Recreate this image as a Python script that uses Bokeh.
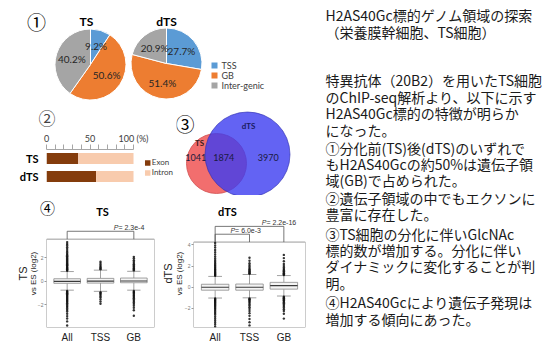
import numpy as np
from bokeh.plotting import figure
from bokeh.layouts import row, column
from bokeh.models import Range1d, FactorRange, FixedTicker, LinearAxis, Legend, LegendItem
from bokeh.core.properties import value
from bokeh.embed import file_html
from bokeh.resources import INLINE

# ---------------- data ----------------
pie_groups = ["TS", "dTS"]
pie_categories = ["TSS", "GB", "Inter-genic"]
pie_ts_pct = [9.2, 50.6, 40.2]
pie_dts_pct = [27.7, 51.4, 20.9]

bar_groups = ["TS", "dTS"]
bar_categories = ["Exon", "Intron"]
bar_exon_pct = [36.5, 57.0]
bar_intron_pct = [63.5, 43.0]
bar_tick_values = [0, 50, 100]
bar_minor_ticks = [10, 20, 30, 40, 60, 70, 80, 90]

venn_labels = ["TS", "dTS"]
venn_ts_only = 1041
venn_shared = 1874
venn_dts_only = 3970

box_categories = ["All", "TSS", "GB"]
# TS vs ES (log2)
ts_q1 = [-0.17, -0.15, -0.12]
ts_median = [0.0, 0.02, 0.03]
ts_q3 = [0.22, 0.25, 0.28]
ts_whisker_lo = [-0.75, -0.85, -0.75]
ts_whisker_hi = [0.83, 0.95, 0.85]
ts_out_all = [0.9, 0.96, 1.02, 1.09, 1.15, 1.22, 1.3, 1.37, 1.45, 1.52, 1.6, 1.68, 1.77,
              1.85, 1.94, 2.03, 2.12, 2.22, 2.33, 2.45, 2.58, 2.74, 2.9, 3.05, 3.18, 3.33,
              -0.82, -0.88, -0.95, -1.02, -1.1, -1.17, -1.25, -1.33, -1.41, -1.5, -1.58,
              -1.67, -1.76, -1.86, -1.96, -2.07, -2.18, -2.3, -2.43, -2.57, -2.75, -2.95,
              -3.15, -3.4, -3.75]
ts_out_tss = [1.02, 1.1, 1.2, 1.3, 1.42, 1.55, 1.67,
              -0.92, -1.0, -1.08, -1.17, -1.28, -1.4, -1.55, -1.72, -1.9]
ts_out_gb = [0.93, 1.0, 1.08, 1.16, 1.25, 1.34, 1.44, 1.55, 1.67, 1.8, 1.95, 2.08,
             -0.82, -0.9, -0.98, -1.06, -1.15, -1.24, -1.34, -1.44, -1.55, -1.67, -1.8,
             -1.93, -2.08, -2.25, -2.45, -2.92]
ts_pvalues = ["2.3e-4"]
# dTS vs ES (log2)
dts_q1 = [-0.28, -0.28, -0.18]
dts_median = [0.0, 0.0, 0.15]
dts_q3 = [0.28, 0.3, 0.46]
dts_whisker_lo = [-1.02, -1.0, -0.83]
dts_whisker_hi = [1.02, 1.2, 1.1]
dts_out_all = [1.08, 1.15, 1.22, 1.3, 1.38, 1.46, 1.55, 1.64, 1.73, 1.83, 1.93, 2.04, 2.15,
               2.27, 2.4, 2.55, 2.72, 2.9, 3.1, 3.3, 3.52, 3.75, 3.95, 4.17,
               -1.06, -1.13, -1.2, -1.28, -1.36, -1.44, -1.53, -1.62, -1.72, -1.82, -1.93,
               -2.04, -2.16, -2.29, -2.43, -2.58, -2.75, -2.93, -3.12, -3.3, -3.5, -3.7]
dts_out_tss = [1.26, 1.33, 1.41, 1.5, 1.6, 1.7, 1.82, 1.95, 2.1, 2.27, 2.5, 2.78,
               -1.06, -1.13, -1.21, -1.3, -1.4, -1.5, -1.62, -1.75, -1.9, -2.06, -2.25,
               -2.45, -2.7, -3.0, -3.3, -3.6]
dts_out_gb = [1.16, 1.23, 1.31, 1.4, 1.5, 1.6, 1.72, 1.85, 2.0, 2.2, 2.45, 2.75, 3.05,
              -0.9, -0.97, -1.05, -1.13, -1.22, -1.31, -1.41, -1.52, -1.64, -1.77, -1.91,
              -2.07, -2.25, -2.5, -2.96]
dts_pvalues = ["6.0e-3", "2.2e-16"]

text_lines = [
    "H2AS40Gc標的ゲノム領域の探索",
    "（栄養膜幹細胞、TS細胞）",
    "特異抗体（20B2）を用いたTS細胞",
    "のChIP-seq解析より、以下に示す",
    "H2AS40Gc標的の特徴が明らか",
    "になった。",
    "①分化前(TS)後(dTS)のいずれで",
    "もH2AS40Gcの約50%は遺伝子領",
    "域(GB)で占められた。",
    "②遺伝子領域の中でもエクソンに",
    "豊富に存在した。",
    "③TS細胞の分化に伴いGlcNAc",
    "標的数が増加する。分化に伴い",
    "ダイナミックに変化することが判",
    "明。",
    "④H2AS40Gcにより遺伝子発現は",
    "増加する傾向にあった。",
]

# ---------------- style ----------------
CJK = "Noto Sans CJK JP"
OFF = "Lato"
ARIAL = "Liberation Sans"
pie_colors = ["#5B9BD5", "#ED7D31", "#A5A5A5"]
bar_colors = ["#843C0C", "#F8CBAD"]
TOOLS = dict(output_backend="svg", toolbar_location=None)


def blank(width, height, x0, x1, y0, y1):
    p = figure(width=width, height=height, x_range=Range1d(x0, x1), y_range=Range1d(y0, y1),
               x_axis_type=None, y_axis_type=None, min_border=0, **TOOLS)
    p.outline_line_color = None
    p.grid.visible = False
    p.background_fill_color = "white"
    p.border_fill_color = "white"
    return p


# ---------------- (1) pies ----------------
H1 = 102
pie = blank(312, H1, 0, 312, 0, H1)
pie_cx = [90, 166]
pie_cy = [H1 - 64, H1 - 63]
pie_r = 35.5
pie_sets = [pie_ts_pct, pie_dts_pct]
lab_x, lab_y, lab_t = [], [], []
for k, cat in enumerate(pie_categories):
    starts, ends = [], []
    for g, vals in enumerate(pie_sets):
        before = sum(vals[:k]) / 100.0
        after = before + vals[k] / 100.0
        a0 = np.pi / 2 - before * 2 * np.pi
        a1 = np.pi / 2 - after * 2 * np.pi
        starts.append(a0)
        ends.append(a1)
        mid = (a0 + a1) / 2
        lab_x.append(pie_cx[g] + 0.55 * pie_r * np.cos(mid))
        lab_y.append(pie_cy[g] + 0.55 * pie_r * np.sin(mid))
        lab_t.append(f"{vals[k]:.1f}%")
    pie.wedge(x=pie_cx, y=pie_cy, radius=pie_r, start_angle=starts, end_angle=ends,
              direction="clock", fill_color=pie_colors[k], line_color="white", line_width=1)
pie.text(x=lab_x, y=lab_y, text=lab_t, text_font=value(OFF), text_font_size="10px",
         text_align="center", text_baseline="middle", text_color="#262626")
pie.text(x=[pie_cx[0] - 4, pie_cx[1]], y=[H1 - 21, H1 - 21], text=pie_groups,
         text_font=value(OFF), text_font_size="12px", text_font_style="bold",
         text_align="center", text_baseline="middle", text_color="#000000")
pie.text(x=[36], y=[H1 - 21], text=["①"], text_font=value(CJK), text_font_size="19px",
         text_align="center", text_baseline="middle", text_color="#000000")
leg_y = [H1 - 65, H1 - 75, H1 - 85]
pie.rect(x=[214] * 3, y=leg_y, width=6, height=6, fill_color=pie_colors, line_color=None)
pie.text(x=[221] * 3, y=leg_y, text=pie_categories, text_font=value(OFF), text_font_size="9px",
         text_align="left", text_baseline="middle", text_color="#404040")

# ---------------- (2) bars ----------------
bar = figure(width=176, height=93, x_range=Range1d(0, 149.4),
             y_range=FactorRange(*reversed(bar_groups)), x_axis_location="above",
             min_border_left=46, min_border_right=0, min_border_top=46, min_border_bottom=10,
             title="②", **TOOLS)
bar.outline_line_color = None
bar.grid.visible = False
bar_total = [e + i for e, i in zip(bar_exon_pct, bar_intron_pct)]
r_ex = bar.hbar(y=bar_groups, left=0, right=bar_exon_pct, height=0.6, fill_color=bar_colors[0], line_color=None)
r_in = bar.hbar(y=bar_groups, left=bar_exon_pct, right=bar_total, height=0.6, fill_color=bar_colors[1], line_color=None)
xa = bar.xaxis[0]
xa.ticker = FixedTicker(ticks=bar_tick_values, minor_ticks=bar_minor_ticks)
xa.bounds = (0, 100)
xa.major_label_overrides = {100: "100 (%)"}
xa.major_label_text_font = OFF
xa.major_label_text_font_size = "9px"
xa.major_label_text_color = "#404040"
xa.major_label_standoff = 1
xa.major_tick_out = 5
xa.major_tick_in = 0
xa.minor_tick_out = 5
xa.minor_tick_in = 0
xa.axis_line_color = "#a6a6a6"
xa.major_tick_line_color = "#a6a6a6"
xa.minor_tick_line_color = "#a6a6a6"
ya = bar.yaxis[0]
ya.major_label_text_font = OFF
ya.major_label_text_font_size = "11px"
ya.major_label_text_font_style = "bold"
ya.major_label_text_color = "#000000"
ya.major_label_standoff = 8
ya.major_tick_out = 0
ya.major_tick_in = 0
ya.axis_line_color = None
bar.title.text_font = CJK
bar.title.text_font_size = "17px"
bar.title.text_font_style = "normal"
bar.title.align = "left"
bar.title.offset = -8
bar.title.standoff = 0
leg = Legend(items=[LegendItem(label=bar_categories[0], renderers=[r_ex]),
                    LegendItem(label=bar_categories[1], renderers=[r_in])],
             location="center_right", margin=3, padding=0, spacing=0,
             glyph_width=7, glyph_height=7, label_height=7, label_standoff=1,
             label_text_font=OFF, label_text_font_size="8px", label_text_color="#404040",
             border_line_color=None, background_fill_alpha=0)
bar.add_layout(leg)

# ---------------- (3) venn ----------------
venn = blank(136, 93, 176, 312, 195, 102)
ts_total = venn_ts_only + venn_shared
dts_total = venn_dts_only + venn_shared
k_r = 0.556
r_ts = k_r * np.sqrt(ts_total)
r_dts = k_r * np.sqrt(dts_total)
c_ts = (216, 163)
c_dts = (247, 154)
venn.circle(x=[c_ts[0]], y=[c_ts[1]], radius=r_ts, fill_color="#F26E6E", fill_alpha=1.0,
            line_color="#D05050", line_width=0.8)
venn.circle(x=[c_dts[0]], y=[c_dts[1]], radius=r_dts, fill_color="#3C3CF0", fill_alpha=0.8,
            line_color="#3030B0", line_width=0.8, line_alpha=0.8)
num_x = [(c_ts[0] - r_ts + c_dts[0] - r_dts) / 2,
         (c_dts[0] - r_dts + c_ts[0] + r_ts) / 2 - 2,
         (c_ts[0] + r_ts + c_dts[0] + r_dts) / 2]
venn.text(x=num_x, y=[157] * 3, text=[str(venn_ts_only), str(venn_shared), str(venn_dts_only)],
          text_font=value(OFF), text_font_size="9px", text_align="center", text_baseline="middle",
          text_color="#1a1a40")
venn.text(x=[199, 248], y=[142, 125], text=venn_labels, text_font=value(OFF), text_font_size="8px",
          text_font_style="bold", text_align="center", text_baseline="middle",
          text_color=["#3a1a1a", "#1a1a60"])
venn.text(x=[184.5], y=[123], text=["③"], text_font=value(CJK), text_font_size="19px",
          text_align="center", text_baseline="middle", text_color="#000000")

# ---------------- (4) header ----------------
hdr = blank(312, 24, 0, 312, 24, 0)
hdr.text(x=[47], y=[12], text=["④"], text_font=value(CJK), text_font_size="15px",
         text_align="center", text_baseline="middle", text_color="#000000")
hdr.text(x=[102, 227], y=[16, 16], text=pie_groups, text_font=value(OFF), text_font_size="11px",
         text_font_style="bold", text_align="center", text_baseline="middle", text_color="#000000")


# ---------------- (4) box plots ----------------
def make_box(width, bl, br, xr, yr, box_top, ticks, q1, med, q3, lo, hi, outs,
             brackets, main_label, lab_so, main_so):
    p = figure(width=width, height=126, x_range=Range1d(*xr), y_range=Range1d(*yr),
               min_border_left=bl, min_border_right=br, min_border_top=0, min_border_bottom=16,
               **TOOLS)
    p.outline_line_color = None
    p.grid.visible = False
    xs = list(range(1, len(box_categories) + 1))
    # panel frame
    p.quad(left=[xr[0]], right=[xr[1]], bottom=[yr[0]], top=[box_top], fill_color=None,
           line_color="#9a9a9a", line_width=1)
    # whiskers
    p.segment(x0=xs, y0=q3, x1=xs, y1=hi, line_color="#8a8a8a", line_width=0.8)
    p.segment(x0=xs, y0=q1, x1=xs, y1=lo, line_color="#8a8a8a", line_width=0.8)
    p.segment(x0=[x - 0.2 for x in xs], y0=hi, x1=[x + 0.2 for x in xs], y1=hi,
              line_color="#8a8a8a", line_width=0.8)
    p.segment(x0=[x - 0.2 for x in xs], y0=lo, x1=[x + 0.2 for x in xs], y1=lo,
              line_color="#8a8a8a", line_width=0.8)
    # boxes
    p.quad(left=[x - 0.4 for x in xs], right=[x + 0.4 for x in xs], bottom=q1, top=q3,
           fill_color="#f4f4f4", line_color="#8a8a8a", line_width=0.8)
    p.segment(x0=[x - 0.4 for x in xs], y0=med, x1=[x + 0.4 for x in xs], y1=med,
              line_color="#3a3a3a", line_width=1.2)
    # outliers
    ox, oy = [], []
    for x, vals in zip(xs, outs):
        ox += [x] * len(vals)
        oy += vals
    p.scatter(x=ox, y=oy, size=2.4, fill_color="#111111", line_color=None, fill_alpha=0.85)
    # significance brackets
    for (i0, i1, level, ptxt, off) in brackets:
        p.line(x=[xs[i0], xs[i0], xs[i1], xs[i1]], y=[box_top, level, level, box_top],
               line_color="#555555", line_width=0.8)
        p.text(x=[xs[i1]], y=[level], x_offset=off, y_offset=-0.5, text=["P"],
               text_font=value(ARIAL), text_font_size="7px", text_font_style="italic",
               text_align="left", text_baseline="bottom", text_color="#333333")
        p.text(x=[xs[i1]], y=[level], x_offset=off + 4.6, y_offset=-0.5, text=[" = " + ptxt],
               text_font=value(ARIAL), text_font_size="7px", text_align="left",
               text_baseline="bottom", text_color="#333333")
    xa = p.xaxis[0]
    xa.ticker = FixedTicker(ticks=xs)
    xa.major_label_overrides = {x: c for x, c in zip(xs, box_categories)}
    xa.major_label_text_font = ARIAL
    xa.major_label_text_font_size = "10px"
    xa.major_label_text_color = "#222222"
    xa.major_label_standoff = 4
    xa.major_tick_out = 0
    xa.major_tick_in = 0
    xa.minor_tick_out = 0
    xa.minor_tick_in = 0
    xa.axis_line_color = None
    ya = p.yaxis[0]
    ya.ticker = FixedTicker(ticks=ticks)
    ya.major_label_text_font = ARIAL
    ya.major_label_text_font_size = "5px"
    ya.major_label_text_color = "#777777"
    ya.major_label_standoff = 1
    ya.major_tick_out = 2
    ya.major_tick_in = 0
    ya.minor_tick_out = 0
    ya.minor_tick_in = 0
    ya.major_tick_line_color = "#999999"
    ya.axis_line_color = None
    ya.axis_label = "vs ES (log2)"
    ya.axis_label_text_font = ARIAL
    ya.axis_label_text_font_size = "8px"
    ya.axis_label_text_font_style = "normal"
    ya.axis_label_text_color = "#222222"
    ya.axis_label_standoff = lab_so
    ax2 = LinearAxis(ticker=FixedTicker(ticks=[]), axis_label=main_label,
                     axis_label_text_font=ARIAL, axis_label_text_font_size="11px",
                     axis_label_text_font_style="normal", axis_label_text_color="#222222",
                     axis_label_standoff=main_so, axis_line_color=None, major_tick_out=0,
                     major_tick_in=0, minor_tick_out=0, minor_tick_in=0)
    p.add_layout(ax2, "left")
    return p


ts_box = make_box(156, 46, 2, (0.38, 3.62), (-3.92, 5.25), 3.58, [-2, 0, 2],
                  ts_q1, ts_median, ts_q3, ts_whisker_lo, ts_whisker_hi,
                  [ts_out_all, ts_out_tss, ts_out_gb],
                  [(0, 2, 4.25, ts_pvalues[0], -20)], "TS", -3, -3)
dts_box = make_box(156, 37, 7, (0.37, 3.63), (-3.80, 6.39), 4.26, [-2, 0, 2, 4],
                   dts_q1, dts_median, dts_q3, dts_whisker_lo, dts_whisker_hi,
                   [dts_out_all, dts_out_tss, dts_out_gb],
                   [(0, 2, 5.74, dts_pvalues[1], -22), (0, 1, 5.0, dts_pvalues[0], -19)],
                   "dTS", -2, -2)

# ---------------- text panel ----------------
text_y = [14, 31, 79, 96, 112, 129, 147, 163, 179, 197, 213, 233, 249, 265, 282, 301, 318]
tf = blank(231, 345, 0, 231, 345, 0)
tf.text(x=[13] * len(text_lines), y=text_y, text=text_lines, text_font=value(CJK),
        text_font_size="14px", text_align="left", text_baseline="middle", text_color="#1a1a1a")

left = column(pie, row(column(bar), column(venn)), hdr, row(column(ts_box), column(dts_box)))
layout = row(left, tf)

with open("out.html", "w") as f:
    f.write(file_html(layout, INLINE))
